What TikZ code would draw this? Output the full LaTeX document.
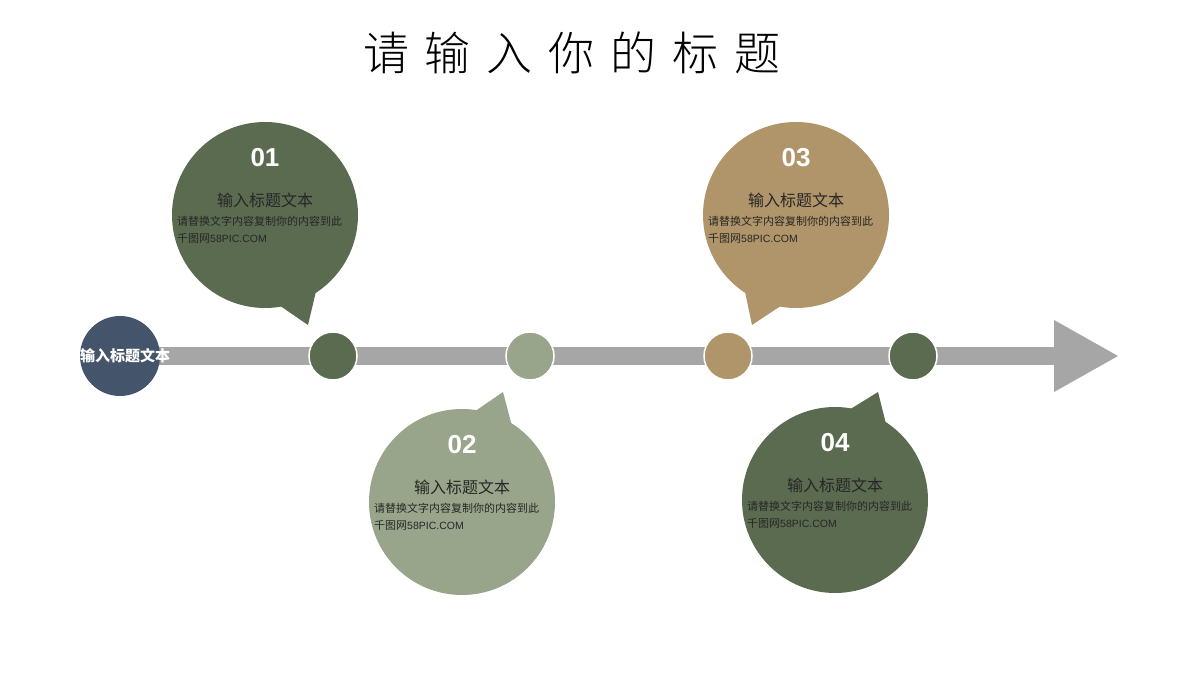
\documentclass[tikz,border=0pt]{standalone}
\usepackage{fontspec}
\setmainfont{Liberation Sans}
\newfontfamily\cjk{Noto Sans CJK SC}
\newfontfamily\cjkl{Noto Sans CJK SC Light}
\usetikzlibrary{calc}
\begin{document}
\begin{tikzpicture}[x=1pt,y=1pt,
  dot/.style={circle,draw=white,line width=1.5pt,minimum size=48pt,inner sep=0pt}]
\definecolor{dg}{HTML}{5A6B50}
\definecolor{lg}{HTML}{98A58A}
\definecolor{tn}{HTML}{B0956A}
\definecolor{nv}{HTML}{44546A}
\definecolor{bar}{HTML}{A6A6A6}
\useasboundingbox (0,0) rectangle (1200,675);
\node (title) at (572,622) {\cjkl\fontsize{46}{50}\selectfont 请\hspace{16pt}输\hspace{16pt}入\hspace{16pt}你\hspace{16pt}的\hspace{16pt}标\hspace{16pt}题};
% bar and arrow
\fill[bar] (140,310) rectangle (1056,328);
\fill[bar] (1054,355) -- (1118,319) -- (1054,283) -- cycle;
\node[circle,fill=nv,minimum size=80pt,inner sep=0pt] (start) at (120,319) {};
\node[text=white] (starttxt) at (125,319) {\cjk\bfseries\fontsize{15}{18}\selectfont 输入标题文本};
\node[dot,fill=dg] (d1) at (333,319) {};
\node[dot,fill=lg] (d2) at (530,319) {};
\node[dot,fill=tn] (d3) at (728,319) {};
\node[dot,fill=dg] (d4) at (913,319) {};
\newcommand{\bubble}[8]{%
  \fill[#6] (#1,#2) circle (93) ;
  \fill[#6] ($(#1,#2)+(#7:90)$) -- (#3,#4) -- ($(#1,#2)+(#8:90)$) -- cycle;
  \node[text=white] (n#5) at (#1,#2+57) {\fontsize{26}{30}\selectfont\bfseries 0#5};
  \node[text=black!85] (t#5) at (#1,#2+15) {\cjk\fontsize{16}{19}\selectfont 输入标题文本};
  \node[anchor=north west,inner sep=0pt,text=black!85,align=left,font=\cjk\fontsize{11}{17}\selectfont] (b#5) at (#1-88,#2-1)
    {请替换文字内容复制你的内容到此\\千图网{\rmfamily\fontsize{10.5}{17}\selectfont 58PIC.COM}};
}
\bubble{265}{460}{308}{350}{1}{dg}{-55}{-82}
\bubble{462}{173}{503}{283}{2}{lg}{56}{83}
\bubble{796}{460}{752}{350}{3}{tn}{-98}{-125}
\bubble{835}{175}{878}{283}{4}{dg}{55}{82}
\end{tikzpicture}
\end{document}
